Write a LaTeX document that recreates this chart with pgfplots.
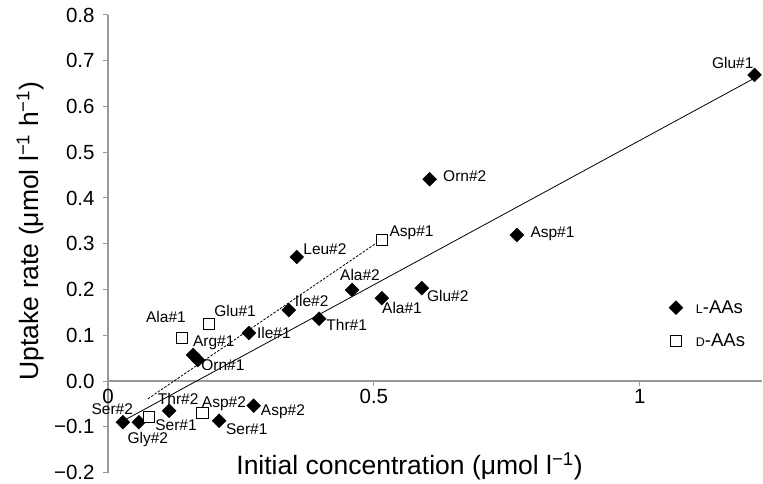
\documentclass[border=0pt]{standalone}
\usepackage{fontspec}
\setmainfont{Liberation Sans}
\usepackage{pgfplots}
\usepackage{pgfplotstable}
\pgfplotsset{compat=1.18}

% L-amino acids (filled diamonds)
\pgfplotstableread{
x      y
1.216  0.669
0.605  0.441
0.769  0.319
0.355  0.271
0.459  0.199
0.590  0.203
0.515  0.181
0.340  0.155
0.397  0.136
0.265  0.105
0.160  0.057
0.169  0.046
0.028  -0.090
0.058  -0.090
0.115  -0.065
0.209  -0.087
0.274  -0.054
}\laas

% D-amino acids (open squares)
\pgfplotstableread{
x      y
0.515  0.308
0.190  0.125
0.139  0.094
0.077  -0.079
0.178  -0.070
}\daas

\newcommand{\lbl}{\fontsize{15.5}{17}\selectfont}
\newcommand{\sm}[1]{{\fontsize{12.5}{13}\selectfont #1}}

\begin{document}
\begin{tikzpicture}
\begin{axis}[
  scale only axis,
  width=654pt, height=457.5pt,
  xmin=0, xmax=1.23, ymin=-0.2, ymax=0.8,
  axis x line=middle, axis y line=left,
  axis line style={-, draw=gray!80, line width=1.3pt},
  tick style={draw=gray!80, line width=1pt},
  tick align=outside, major tick length=5pt,
  hide obscured x ticks=false, hide obscured y ticks=false,
  xtick={0,0.5,1}, xticklabels={0,0.5,1},
  ytick={-0.2,-0.1,0,0.1,0.2,0.3,0.4,0.5,0.6,0.7,0.8},
  yticklabels={−0.2,−0.1,0.0,0.1,0.2,0.3,0.4,0.5,0.6,0.7,0.8},
  ticklabel style={font=\fontsize{20.5}{22}\selectfont},
  yticklabel style={inner sep=1pt, xshift=-7.3pt},
  xlabel={Initial concentration (μmol l\textsuperscript{−1})},
  ylabel={Uptake rate (μmol l\textsuperscript{−1} h\textsuperscript{−1})},
  label style={font=\fontsize{26.5}{29}\selectfont},
  xlabel style={at={(axis description cs:0.461,0.014)}, anchor=center},
  ylabel style={at={(axis description cs:-0.119,0.528)}, anchor=center},
  legend style={draw=none, fill=none, at={(rel axis cs:0.853,0.385)}, anchor=north west,
    font=\fontsize{18.5}{21}\selectfont, row sep=15pt},
  legend cell align=left,
  clip=false,
]
\addplot[black, line width=0.8pt, forget plot] coordinates {(0.032,-0.085) (1.216,0.662)};
\addplot[black, line width=0.8pt, dash pattern=on 2.5pt off 1.5pt, forget plot] coordinates {(0.075,-0.039) (0.513,0.308)};
\addplot[only marks, mark=square*, mark size=4.9pt, mark options={rotate=45, fill=black, draw=black}] table {\laas};
\addlegendentry{\hspace*{11pt}\sm{L}-AAs}
\addplot[only marks, mark=square*, mark size=5.8pt, mark options={fill=white, draw=black, line width=0.9pt}] table {\daas};
\addlegendentry{\hspace*{11pt}\sm{D}-AAs}

\begin{scope}[every node/.style={font=\lbl, inner sep=0pt}]
\node at (axis cs:1.175,0.695) {Glu\#1};
\node at (axis cs:0.671,0.448) {Orn\#2};
\node at (axis cs:0.836,0.321) {Asp\#1};
\node at (axis cs:0.408,0.289) {Leu\#2};
\node at (axis cs:0.571,0.323) {Asp\#1};
\node at (axis cs:0.474,0.232) {Ala\#2};
\node at (axis cs:0.639,0.186) {Glu\#2};
\node at (axis cs:0.553,0.160) {Ala\#1};
\node at (axis cs:0.383,0.175) {Ile\#2};
\node at (axis cs:0.449,0.122) {Thr\#1};
\node at (axis cs:0.312,0.105) {Ile\#1};
\node at (axis cs:0.239,0.153) {Glu\#1};
\node at (axis cs:0.109,0.140) {Ala\#1};
\node at (axis cs:0.199,0.083) {Arg\#1};
\node at (axis cs:0.216,0.035) {Orn\#1};
\node at (axis cs:0.008,-0.061) {Ser\#2};
\node at (axis cs:0.075,-0.127) {Gly\#2};
\node at (axis cs:0.128,-0.096) {Ser\#1};
\node at (axis cs:0.132,-0.039) {Thr\#2};
\node at (axis cs:0.218,-0.050) {Asp\#2};
\node at (axis cs:0.329,-0.066) {Asp\#2};
\node at (axis cs:0.261,-0.105) {Ser\#1};
\end{scope}
\coordinate (bl) at (rel axis cs:0,0);
\coordinate (tr) at (rel axis cs:1,1);
\end{axis}
\pgfresetboundingbox
\useasboundingbox ([shift={(-108pt,-10.5pt)}]bl) rectangle ([shift={(1pt,15pt)}]tr);
\end{tikzpicture}
\end{document}
